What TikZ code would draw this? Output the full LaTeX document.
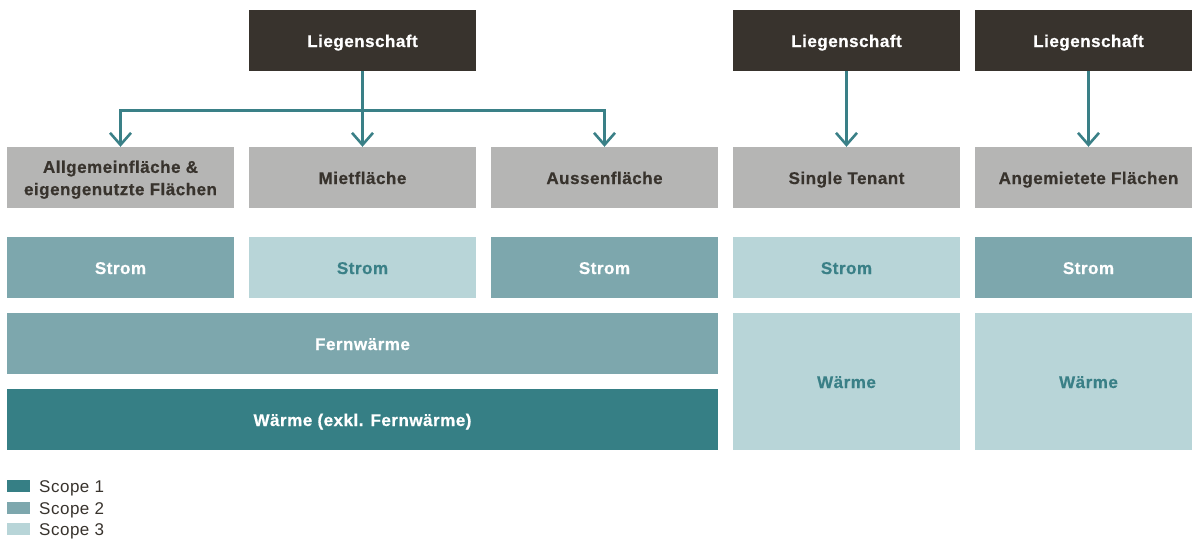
\documentclass[tikz,border=0pt]{standalone}
\usepackage{fontspec}
\setmainfont{Liberation Sans}[LetterSpace=3, BoldFeatures={FakeBold=0.6}]
\usetikzlibrary{arrows.meta}
\definecolor{dark}{HTML}{38332D}
\definecolor{greybox}{HTML}{B5B5B4}
\definecolor{sone}{HTML}{367F85}
\definecolor{stwo}{HTML}{7DA7AD}
\definecolor{sthree}{HTML}{B8D5D8}
\definecolor{arrowc}{HTML}{3A8087}
\tikzset{
  box/.style={rectangle, inner sep=0pt, minimum width=227pt, minimum height=61pt, align=center,
    text height=13pt, text depth=0pt,
    font=\fontsize{17}{22.3}\selectfont\bfseries},
  topbox/.style={box, fill=dark, text=white},
  areabox/.style={box, fill=greybox, text=dark},
  scopeone/.style={box, fill=sone, text=white},
  scopetwo/.style={box, fill=stwo, text=white},
  scopethree/.style={box, fill=sthree, text=arrowc},
  conn/.style={draw=arrowc, line width=2.6pt},
  arr/.style={conn, -{Straight Barb[length=12pt, width=21pt]}},
  legsq/.style={rectangle, inner sep=0pt, minimum width=23pt, minimum height=12pt},
  legtxt/.style={anchor=base west, inner sep=0pt, text=dark, font=\fontsize{17}{20}\selectfont},
}
\begin{document}
\begin{tikzpicture}[x=1pt, y=-1pt]
\useasboundingbox (0,0) rectangle (1192,539);
% top
\node[topbox] (L1) at (362.5,40.5) {Liegenschaft};
\node[topbox] (L2) at (846.5,40.5) {Liegenschaft};
\node[topbox] (L3) at (1088.5,40.5) {Liegenschaft};
% areas
\node[areabox, text height=35.3pt, text depth=0pt] (A1) at (120.5,177.5) {Allgemeinfläche \&\\eigengenutzte Flächen};
\node[areabox] (A2) at (362.5,177.5) {Mietfläche};
\node[areabox] (A3) at (604.5,177.5) {Aussenfläche};
\node[areabox] (A4) at (846.5,177.5) {Single Tenant};
\node[areabox] (A5) at (1088.5,177.5) {Angemietete Flächen};
% strom
\node[scopetwo] (S1) at (120.5,267.5) {Strom};
\node[scopethree] (S2) at (362.5,267.5) {Strom};
\node[scopetwo] (S3) at (604.5,267.5) {Strom};
\node[scopethree] (S4) at (846.5,267.5) {Strom};
\node[scopetwo] (S5) at (1088.5,267.5) {Strom};
% heat
\node[scopetwo, minimum width=711pt] (F) at (362.5,343.5) {Fernwärme};
\node[scopeone, minimum width=711pt] (W) at (362.5,419.5) {Wärme (exkl. Fernwärme)};
\node[scopethree, minimum height=137pt] (W4) at (846.5,381.5) {Wärme};
\node[scopethree, minimum height=137pt] (W5) at (1088.5,381.5) {Wärme};
% connectors
\coordinate (J) at (362.5,110.5);
\coordinate (JL) at (120.5,110.5);
\coordinate (JR) at (604.5,110.5);
\draw[conn] (L1.south) -- (J);
\draw[conn, line cap=rect] (JL) -- (JR);
\draw[arr] (JL) -- (A1.north);
\draw[arr] (J) -- (A2.north);
\draw[arr] (JR) -- (A3.north);
\draw[arr] (L2.south) -- (A4.north);
\draw[arr] (L3.south) -- (A5.north);
% legend
\node[legsq, fill=sone] (K1) at (18.5,486) {};
\node[legsq, fill=stwo] (K2) at (18.5,508) {};
\node[legsq, fill=sthree] (K3) at (18.5,529) {};
\node[legtxt] (T1) at (39,492.3) {Scope 1};
\node[legtxt] (T2) at (39,514) {Scope 2};
\node[legtxt] (T3) at (39,535.3) {Scope 3};
\end{tikzpicture}
\end{document}
